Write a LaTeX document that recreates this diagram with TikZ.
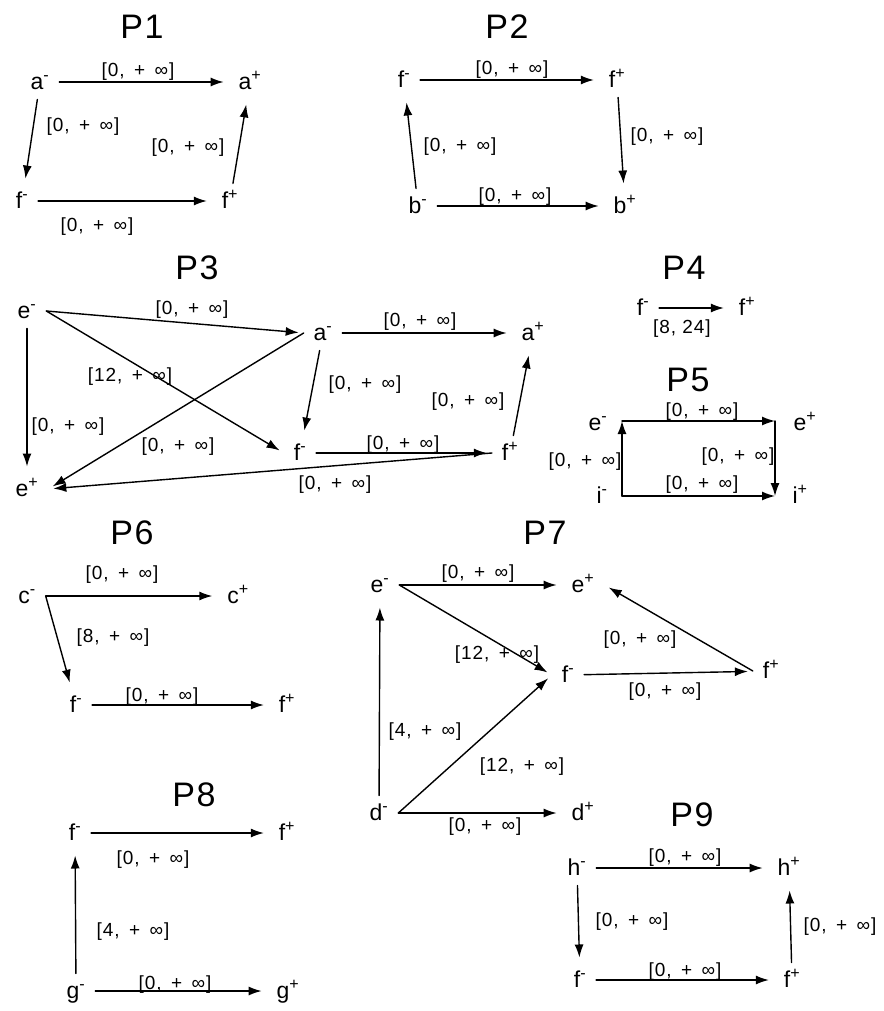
\documentclass[tikz,border=0pt]{standalone}
\usepackage{fontspec}
\setmainfont{Liberation Sans}
\usetikzlibrary{arrows.meta}
\newcommand{\evm}[1]{#1\textsuperscript{-}}
\newcommand{\evp}[1]{#1\textsuperscript{+}}
\newcommand{\inty}[1]{[#1,\hspace{.5em}+\hspace{.5em}∞]}
\begin{document}
\begin{tikzpicture}[x=1pt,y=-1pt,line width=1.4pt,>={Latex[length=13pt,width=9pt]},
  line cap=round,line join=round,
  ev/.style={inner sep=0pt,outer sep=10pt,text height=15pt,text depth=0pt,
    font=\fontsize{23}{23}\selectfont},
  lbl/.style={inner sep=0pt,font=\fontsize{19}{19}\selectfont\addfontfeature{LetterSpace=5}},
  ttl/.style={inner sep=0pt,font=\fontsize{34}{34}\selectfont\addfontfeature{LetterSpace=5}},
  arc/.style={->,shorten >=5pt}]
  \useasboundingbox (0,0) rectangle (883,1011);
  % P1: a and f
  \node[ttl] (t1) at (142,27) {P1};
  \node[ev] (p1am) at (40,82) {\evm{a}};
  \node[ev] (p1ap) at (250,82) {\evp{a}};
  \node[ev] (p1fm) at (22,201) {\evm{f}};
  \node[ev] (p1fp) at (230,201) {\evp{f}};
  \draw[arc] (p1am) -- (p1ap);
  \draw[arc] (p1am) -- (p1fm);
  \draw[arc] (p1fm) -- (p1fp);
  \draw[arc] (p1fp) -- (p1ap);
  \node[lbl] (l1a) at (138,72) {\inty{0}};
  \node[lbl] (l1b) at (83,127) {\inty{0}};
  \node[lbl] (l1c) at (97,227) {\inty{0}};
  \node[lbl] (l1d) at (188,148) {\inty{0}};
  % P2: f and b
  \node[ttl] (t2) at (507,27) {P2};
  \node[ev] (p2fm) at (404,80) {\evm{f}};
  \node[ev] (p2fp) at (617,80) {\evp{f}};
  \node[ev] (p2bm) at (418,206) {\evm{b}};
  \node[ev] (p2bp) at (625,206) {\evp{b}};
  \draw[arc] (p2fm) -- (p2fp);
  \draw[arc] (p2fp) -- (p2bp);
  \draw[arc] (p2bm) -- (p2fm);
  \draw[arc] (p2bm) -- (p2bp);
  \node[lbl] (l2a) at (512,70) {\inty{0}};
  \node[lbl] (l2b) at (667,137) {\inty{0}};
  \node[lbl] (l2c) at (460,147) {\inty{0}};
  \node[lbl] (l2d) at (515,197) {\inty{0}};
  % P3: e, a and f
  \node[ttl] (t3) at (197,268) {P3};
  \node[ev] (p3em) at (27,311) {\evm{e}};
  \node[ev] (p3ep) at (27,489) {\evp{e}};
  \node[ev] (p3am) at (323,333) {\evm{a}};
  \node[ev] (p3ap) at (533,333) {\evp{a}};
  \node[ev] (p3fm) at (300,453) {\evm{f}};
  \node[ev] (p3fp) at (510,453) {\evp{f}};
  \draw[arc] (p3em.east) -- (p3am.west);
  \draw[arc] (p3em.east) -- (p3fm.west);
  \draw[arc] (p3em) -- (p3ep);
  \draw[arc] (p3am.west) -- (p3ep.east);
  \draw[arc] (p3fp.west) -- (p3ep.east);
  \draw[arc] (p3am) -- (p3ap);
  \draw[arc] (p3am) -- (p3fm);
  \draw[arc] (p3fm) -- (p3fp);
  \draw[arc] (p3fp) -- (p3ap);
  \node[lbl] (l3a) at (192,310) {\inty{0}};
  \node[lbl] (l3b) at (130,377) {\inty{12}};
  \node[lbl] (l3c) at (68,427) {\inty{0}};
  \node[lbl] (l3d) at (178,447) {\inty{0}};
  \node[lbl] (l3e) at (335,485) {\inty{0}};
  \node[lbl] (l3f) at (420,322) {\inty{0}};
  \node[lbl] (l3g) at (365,385) {\inty{0}};
  \node[lbl] (l3h) at (403,445) {\inty{0}};
  \node[lbl] (l3i) at (468,402) {\inty{0}};
  % P4: f only
  \node[ttl] (t4) at (684,268) {P4};
  \node[ev] (p4fm) at (643,308) {\evm{f}};
  \node[ev] (p4fp) at (747,308) {\evp{f}};
  \draw[arc] (p4fm) -- (p4fp);
  \node[lbl] (l4a) at (682,329) {[8, 24]};
  % P5: e and i, drawn as a box
  \node[ttl] (t5) at (688,380) {P5};
  \node[ev] (p5em) at (598,423) {\evm{e}};
  \node[ev] (p5ep) at (805,423) {\evp{e}};
  \node[ev] (p5im) at (602,496) {\evm{i}};
  \node[ev] (p5ip) at (800,496) {\evp{i}};
  \coordinate (p5tl) at (622,421);
  \coordinate (p5tr) at (775,421);
  \coordinate (p5bl) at (622,496);
  \coordinate (p5br) at (775,496);
  \draw[->] (p5bl) -- (p5tl);
  \draw[->] (p5tl) -- (p5tr);
  \draw[->] (p5tr) -- (p5br);
  \draw[->] (p5bl) -- (p5br);
  \node[lbl] (l5a) at (702,412) {\inty{0}};
  \node[lbl] (l5b) at (738,457) {\inty{0}};
  \node[lbl] (l5c) at (585,462) {\inty{0}};
  \node[lbl] (l5d) at (702,485) {\inty{0}};
  % P6: c and f
  \node[ttl] (t6) at (132,533) {P6};
  \node[ev] (p6cm) at (27,596) {\evm{c}};
  \node[ev] (p6cp) at (238,596) {\evp{c}};
  \node[ev] (p6fm) at (76,705) {\evm{f}};
  \node[ev] (p6fp) at (287,705) {\evp{f}};
  \draw[arc] (p6cm) -- (p6cp);
  \draw[arc] (p6cm.east) -- (p6fm);
  \draw[arc] (p6fm) -- (p6fp);
  \node[lbl] (l6a) at (122,575) {\inty{0}};
  \node[lbl] (l6b) at (113,638) {\inty{8}};
  \node[lbl] (l6c) at (162,697) {\inty{0}};
  % P7: e, f and d
  \node[ttl] (t7) at (545,533) {P7};
  \node[ev] (p7em) at (380,585) {\evm{e}};
  \node[ev] (p7ep) at (583,585) {\evp{e}};
  \node[ev] (p7fm) at (568,675) {\evm{f}};
  \node[ev] (p7fp) at (771,671) {\evp{f}};
  \node[ev] (p7dm) at (379,813) {\evm{d}};
  \node[ev] (p7dp) at (583,813) {\evp{d}};
  \draw[arc] (p7em) -- (p7ep);
  \draw[arc] (p7em.east) -- (p7fm.west);
  \draw[arc] (p7dm) -- (p7em);
  \draw[arc] (p7dm.east) -- (p7fm.west);
  \draw[arc] (p7dm) -- (p7dp);
  \draw[arc] (p7fm) -- (p7fp);
  \draw[arc] (p7fp.west) -- (p7ep.east);
  \node[lbl] (l7a) at (478,574) {\inty{0}};
  \node[lbl] (l7b) at (497,655) {\inty{12}};
  \node[lbl] (l7c) at (425,732) {\inty{4}};
  \node[lbl] (l7d) at (522,767) {\inty{12}};
  \node[lbl] (l7e) at (485,827) {\inty{0}};
  \node[lbl] (l7f) at (665,692) {\inty{0}};
  \node[lbl] (l7g) at (640,640) {\inty{0}};
  % P8: f and g
  \node[ttl] (t8) at (194,795) {P8};
  \node[ev] (p8fm) at (75,833) {\evm{f}};
  \node[ev] (p8fp) at (287,833) {\evp{f}};
  \node[ev] (p8gm) at (76,991) {\evm{g}};
  \node[ev] (p8gp) at (288,991) {\evp{g}};
  \draw[arc] (p8fm) -- (p8fp);
  \draw[arc] (p8gm) -- (p8fm);
  \draw[arc] (p8gm) -- (p8gp);
  \node[lbl] (l8a) at (153,860) {\inty{0}};
  \node[lbl] (l8b) at (133,932) {\inty{4}};
  \node[lbl] (l8c) at (175,985) {\inty{0}};
  % P9: h and f
  \node[ttl] (t9) at (692,815) {P9};
  \node[ev] (p9hm) at (577,868) {\evm{h}};
  \node[ev] (p9hp) at (789,868) {\evp{h}};
  \node[ev] (p9fm) at (580,980) {\evm{f}};
  \node[ev] (p9fp) at (792,980) {\evp{f}};
  \draw[arc] (p9hm) -- (p9hp);
  \draw[arc] (p9hm) -- (p9fm);
  \draw[arc] (p9fm) -- (p9fp);
  \draw[arc] (p9fp) -- (p9hp);
  \node[lbl] (l9a) at (685,858) {\inty{0}};
  \node[lbl] (l9b) at (632,922) {\inty{0}};
  \node[lbl] (l9c) at (685,972) {\inty{0}};
  \node[lbl] (l9d) at (840,927) {\inty{0}};
\end{tikzpicture}
\end{document}
